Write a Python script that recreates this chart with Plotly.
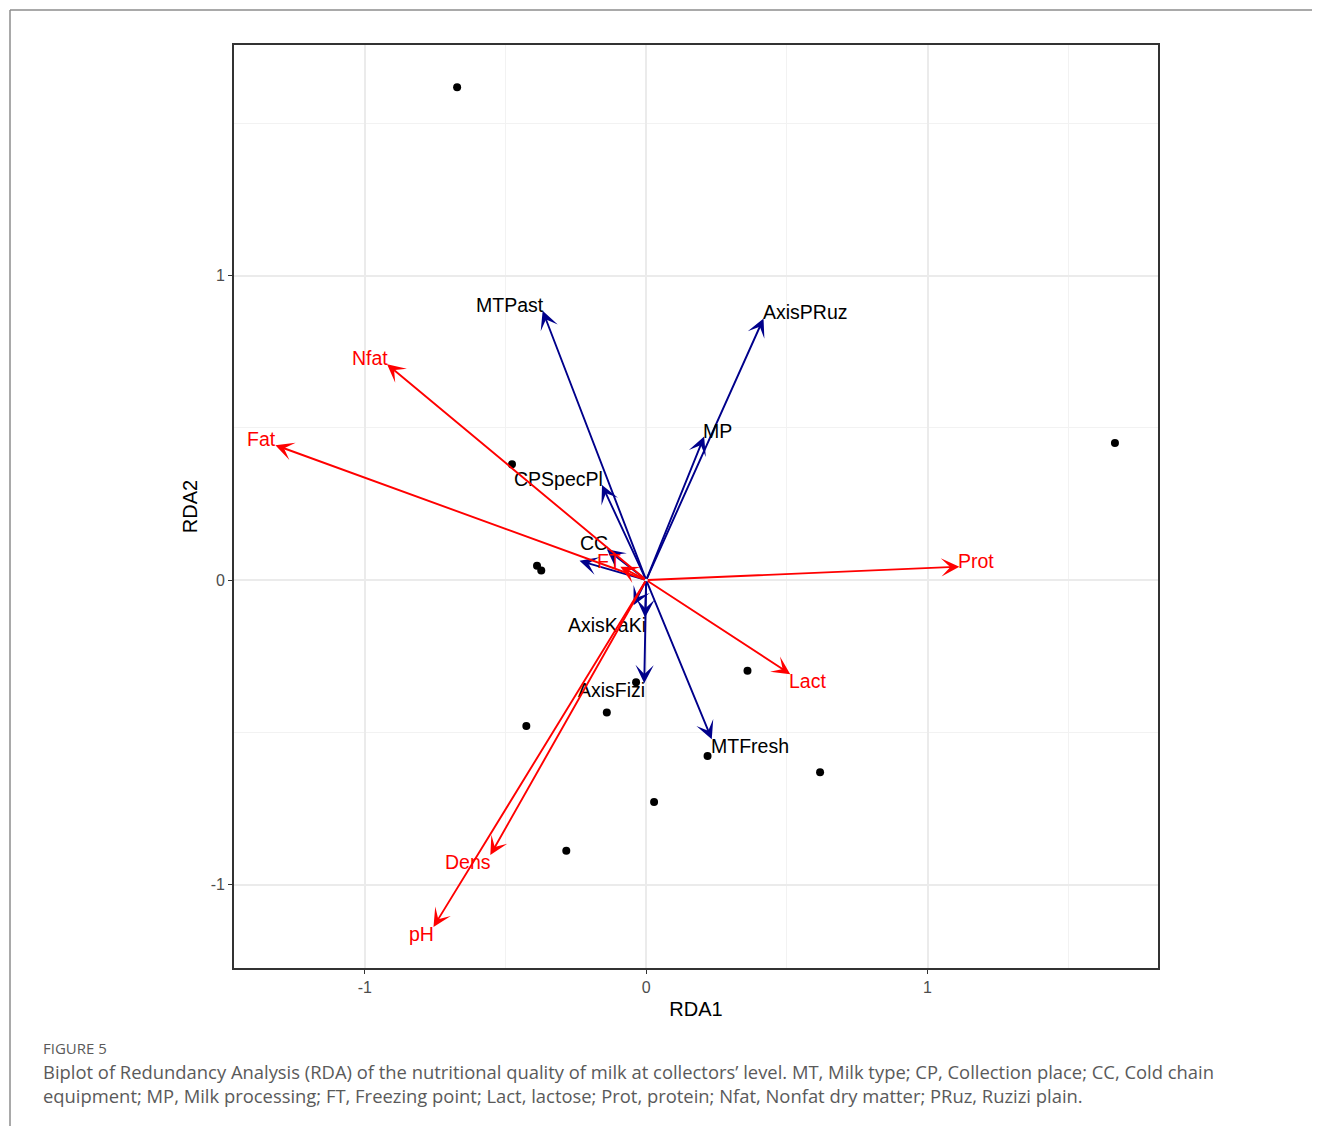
import plotly.graph_objects as go

# ---- data ----
site_x = [-0.672, 1.666, -0.477, -0.388, -0.373, 0.360, -0.036, -0.140, -0.426, 0.218, 0.618, 0.028, -0.284]
site_y = [1.618, 0.450, 0.380, 0.047, 0.031, -0.298, -0.336, -0.435, -0.479, -0.578, -0.631, -0.729, -0.889]

resp_names = ["Nfat", "Fat", "Prot", "Lact", "Dens", "pH", "FT"]
resp_x = [-0.921, -1.318, 1.113, 0.512, -0.554, -0.756, -0.092]
resp_y = [0.709, 0.443, 0.044, -0.309, -0.903, -1.139, 0.044]

expl_names = ["MTPast", "AxisPRuz", "MP", "CPSpecPl", "CC", "", "", "AxisKaKi", "AxisFizi", "MTFresh"]
expl_x = [-0.368, 0.417, 0.206, -0.157, -0.140, -0.237, -0.045, -0.004, -0.007, 0.233]
expl_y = [0.884, 0.859, 0.471, 0.312, 0.101, 0.063, -0.083, -0.123, -0.339, -0.523]

tick_vals = [-1, 0, 1]
tick_text = ["-1", "0", "1"]

x_range = [-1.465, 1.819]
y_range = [-1.274, 1.757]

caption_head = "FIGURE 5"
caption_lines = [
    "Biplot of Redundancy Analysis (RDA) of the nutritional quality of milk at collectors\u2019 level. MT, Milk type; CP, Collection place; CC, Cold chain",
    "equipment; MP, Milk processing; FT, Freezing point; Lact, lactose; Prot, protein; Nfat, Nonfat dry matter; PRuz, Ruzizi plain.",
]

RED = "#FF0000"
BLUE = "#00008B"
FONT = "Liberation Sans, Arial, sans-serif"

# page offset of the figure inside the browser page (body margin)
OFF = 8
PW, PH = 924, 923          # panel size in px
PL, PT = 234, 45           # panel top-left in page px

def px_to_paper_x(px):
    return (px - PL) / PW

def py_to_paper_y(py):
    return (PT + PH - py) / PH

fig = go.Figure()

fig.add_trace(go.Scatter(
    x=site_x, y=site_y, mode="markers",
    marker=dict(color="black", size=8), hoverinfo="skip", showlegend=False,
))

annotations = []

def add_arrows(xs, ys, names, color):
    for x, y, name in zip(xs, ys, names):
        annotations.append(dict(
            x=x, y=y, ax=0, ay=0, xref="x", yref="y", axref="x", ayref="y",
            showarrow=True, arrowhead=3, arrowsize=1.6, arrowwidth=1.9,
            arrowcolor=color, text="", standoff=0,
        ))
        if name:
            annotations.append(dict(
                x=x, y=y, xref="x", yref="y", text=name, showarrow=False,
                xanchor="right" if x < 0 else "left", yanchor="middle",
                xshift=3 if x < 0 else -3, yshift=6 if y > 0 else -7,
                font=dict(family=FONT, size=19.5, color=color if color == RED else "black"),
            ))

add_arrows(expl_x, expl_y, expl_names, BLUE)
add_arrows(resp_x, resp_y, resp_names, RED)

# caption
annotations.append(dict(
    xref="paper", yref="paper", x=px_to_paper_x(41), y=py_to_paper_y(1048),
    xanchor="left", yanchor="middle", text=caption_head, showarrow=False,
    font=dict(family="Open Sans, sans-serif", size=15, color="#5a5a5a"),
))
for i, line in enumerate(caption_lines):
    annotations.append(dict(
        xref="paper", yref="paper", x=px_to_paper_x(41), y=py_to_paper_y(1071 + 24 * i),
        xanchor="left", yanchor="middle", text=line, showarrow=False,
        font=dict(family="Open Sans, sans-serif", size=18.4, color="#5a5a5a"),
    ))

shapes = [
    dict(type="line", xref="paper", yref="paper",
         x0=px_to_paper_x(10), y0=py_to_paper_y(10), x1=px_to_paper_x(1330), y1=py_to_paper_y(10),
         line=dict(color="#8c8c8c", width=1.5)),
    dict(type="line", xref="paper", yref="paper",
         x0=px_to_paper_x(10), y0=py_to_paper_y(10), x1=px_to_paper_x(10), y1=py_to_paper_y(1130),
         line=dict(color="#8c8c8c", width=1.5)),
]

axis_common = dict(
    showgrid=True, gridcolor="#EBEBEB", gridwidth=1.5,
    zeroline=False, showline=True, linecolor="#333333", linewidth=1.8, mirror=True,
    ticks="outside", ticklen=4, tickcolor="#333333", tickwidth=1.2,
    tickvals=tick_vals, ticktext=tick_text,
    tickfont=dict(family=FONT, size=16, color="#4D4D4D"),
    minor=dict(tickvals=[-1.5, -0.5, 0.5, 1.5], showgrid=True, gridcolor="#F2F2F2", gridwidth=0.9, ticks=""),
)

W, H = 1320 - OFF, 1126 - OFF
fig.update_layout(
    width=W, height=H,
    margin=dict(l=PL - OFF, r=W - (PL - OFF) - PW, t=PT - OFF, b=H - (PT - OFF) - PH),
    paper_bgcolor="white", plot_bgcolor="white",
    xaxis=dict(range=x_range, title=dict(text="RDA1", standoff=7, font=dict(family=FONT, size=20, color="black")), **axis_common),
    yaxis=dict(range=y_range, title=dict(text="RDA2", standoff=8, font=dict(family=FONT, size=20, color="black")), **axis_common),
    annotations=annotations, shapes=shapes, showlegend=False,
)

fig.write_html("out.html")
